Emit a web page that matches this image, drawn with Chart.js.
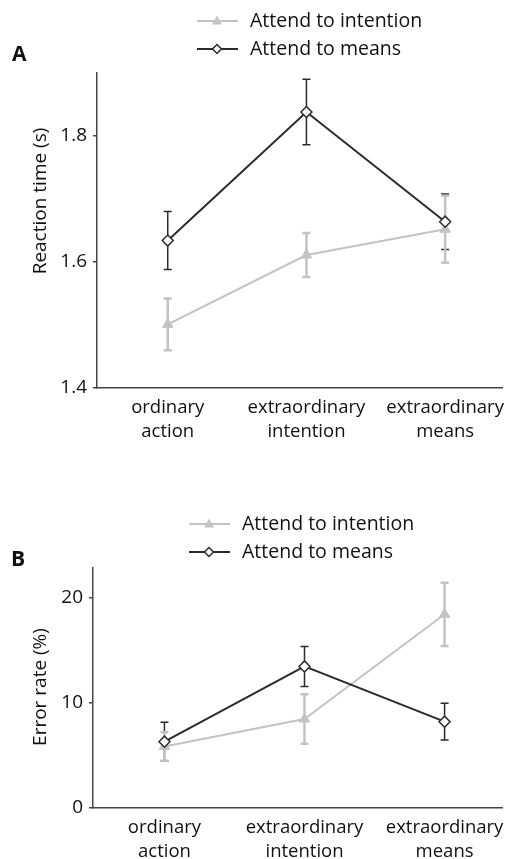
<!DOCTYPE html>
<html>
<head>
<meta charset="utf-8">
<script src="https://cdn.jsdelivr.net/npm/chart.js@4.4.1/dist/chart.umd.min.js"></script>
<style>
  html, body { margin: 0; padding: 0; background: #fff; }
  body { position: relative; width: 509px; height: 859px; overflow: hidden; }
  .painel { position: absolute; left: 0; width: 509px; }
  #wrapA { top: 0; height: 470px; }
  #wrapB { top: 440px; height: 419px; }
</style>
</head>
<body>
<div class="painel" id="wrapA"><canvas id="chartA"></canvas></div>
<div class="painel" id="wrapB"><canvas id="chartB"></canvas></div>
<script>
// === Data ===
const categories = [["ordinary", "action"], ["extraordinary", "intention"], ["extraordinary", "means"]];
const seriesNames = ["Attend to intention", "Attend to means"];

// A: reaction time (s)
const rtIntention = [1.501, 1.611, 1.652];
const rtIntentionErr = [0.041, 0.035, 0.053];
const rtMeans = [1.634, 1.838, 1.664];
const rtMeansErr = [0.046, 0.052, 0.044];
const ticksA = [1.4, 1.6, 1.8];

// B: error rate (%)
const erIntention = [5.85, 8.45, 18.4];
const erIntentionErr = [1.35, 2.35, 3.0];
const erMeans = [6.3, 13.45, 8.2];
const erMeansErr = [1.85, 1.9, 1.75];
const ticksB = [0, 10, 20];

const DARK = "#2b2b2b";
const LIGHT = "#c3c3c3";
const FONT = "'Open Sans', sans-serif";

// === Error bars (drawn under lines/markers) ===
const errorBars = {
  id: "errorBars",
  beforeDatasetsDraw(chart) {
    const ctx = chart.ctx;
    const y = chart.scales.y;
    chart.data.datasets.forEach((ds, di) => {
      const meta = chart.getDatasetMeta(di);
      ctx.save();
      ctx.strokeStyle = ds.borderColor;
      ctx.lineWidth = ds.errWidth;
      meta.data.forEach((pt, i) => {
        const v = ds.data[i].y, e = ds.errors[i];
        const top = y.getPixelForValue(v + e);
        const bot = y.getPixelForValue(v - e);
        ctx.beginPath();
        ctx.moveTo(pt.x, top); ctx.lineTo(pt.x, bot);
        ctx.moveTo(pt.x - 4, top); ctx.lineTo(pt.x + 4, top);
        ctx.moveTo(pt.x - 4, bot); ctx.lineTo(pt.x + 4, bot);
        ctx.stroke();
      });
      ctx.restore();
    });
  }
};

// === Legend, panel letter, y title ===
function marker(ctx, kind, x, y) {
  ctx.beginPath();
  if (kind === "triangle") {
    ctx.moveTo(x, y - 5.5); ctx.lineTo(x + 5, y + 3.5); ctx.lineTo(x - 5, y + 3.5);
    ctx.closePath();
    ctx.fillStyle = LIGHT; ctx.fill();
  } else {
    ctx.moveTo(x, y - 4.5); ctx.lineTo(x + 4.5, y); ctx.lineTo(x, y + 4.5); ctx.lineTo(x - 4.5, y);
    ctx.closePath();
    ctx.fillStyle = "#fff"; ctx.fill();
    ctx.strokeStyle = DARK; ctx.lineWidth = 1.5; ctx.stroke();
  }
}

const decor = {
  id: "decor",
  afterDraw(chart, args, o) {
    const ctx = chart.ctx;
    ctx.save();
    ctx.fillStyle = "#111";
    ctx.textBaseline = "middle";
    ctx.font = "bold 21px " + FONT;
    ctx.fillText(o.letter, o.letterX, o.letterY);

    ctx.font = "19.5px " + FONT;
    const kinds = ["triangle", "diamond"];
    const cols = [LIGHT, DARK];
    seriesNames.forEach((name, i) => {
      const ly = o.legendY[i];
      ctx.strokeStyle = cols[i];
      ctx.lineWidth = 2;
      ctx.beginPath();
      ctx.moveTo(o.legendX, ly); ctx.lineTo(o.legendX + 41, ly);
      ctx.stroke();
      marker(ctx, kinds[i], o.legendX + 20, ly);
      ctx.fillStyle = "#111";
      ctx.fillText(name, o.legendX + 53, ly);
    });

    ctx.translate(o.titleX, o.titleY);
    ctx.rotate(-Math.PI / 2);
    ctx.textAlign = "center";
    ctx.font = "19px " + FONT;
    ctx.fillText(o.title, 0, 0);
    ctx.restore();
  }
};

function makeDatasets(intention, intentionErr, means, meansErr) {
  return [
    {
      label: seriesNames[1], order: 0,
      data: means.map((v, i) => ({ x: i, y: v })), errors: meansErr, errWidth: 1.5,
      borderColor: DARK, borderWidth: 2, pointStyle: "rectRot", pointRadius: 5.5,
      pointBackgroundColor: "#fff", pointBorderColor: DARK, pointBorderWidth: 1.5
    },
    {
      label: seriesNames[0], order: 1,
      data: intention.map((v, i) => ({ x: i, y: v })), errors: intentionErr, errWidth: 2.5,
      borderColor: LIGHT, borderWidth: 2, pointStyle: "triangle", pointRadius: 6,
      pointBackgroundColor: LIGHT, pointBorderColor: LIGHT, pointBorderWidth: 1
    }
  ];
}

function makeChart(id, datasets, yMin, yMax, yTicks, axisLeft, top, xHeight, decorOpts) {
  return new Chart(document.getElementById(id), {
    type: "line",
    data: { datasets },
    options: {
      responsive: true,
      maintainAspectRatio: false,
      animation: false,
      layout: { padding: { top: top, right: 1, left: 0, bottom: 0 } },
      plugins: { legend: { display: false }, tooltip: { enabled: false }, decor: decorOpts },
      scales: {
        x: {
          type: "linear", min: -0.51, max: 2.41,
          afterBuildTicks: s => { s.ticks = categories.map((c, i) => ({ value: i })); },
          afterFit: s => { s.height = xHeight; },
          grid: { display: false },
          border: { color: "#444", width: 1.5 },
          ticks: {
            autoSkip: false, maxRotation: 0, padding: 0, color: "#111",
            font: { family: FONT, size: 18.5, lineHeight: 1.3 },
            callback: v => categories[v]
          }
        },
        y: {
          min: yMin, max: yMax,
          afterBuildTicks: s => { s.ticks = yTicks.map(v => ({ value: v })); },
          afterFit: s => { s.width = axisLeft; },
          grid: { drawOnChartArea: false, tickLength: 4, color: "#444", lineWidth: 1.5 },
          border: { color: "#444", width: 1.5 },
          ticks: { padding: 6, color: "#111", font: { family: FONT, size: 19 } }
        }
      }
    },
    plugins: [errorBars, decor]
  });
}

// A: canvas 470 tall, axis at 388
makeChart("chartA", makeDatasets(rtIntention, rtIntentionErr, rtMeans, rtMeansErr),
  1.4, 1.9, ticksA, 97, 73, 82,
  { letter: "A", letterX: 12, letterY: 55, legendX: 197, legendY: [21, 49],
    title: "Reaction time (s)", titleX: 41, titleY: 201 });

// B: canvas starts at 440, axis at 808
makeChart("chartB", makeDatasets(erIntention, erIntentionErr, erMeans, erMeansErr),
  0, 22.8, ticksB, 93, 128, 51,
  { letter: "B", letterX: 11, letterY: 120, legendX: 189, legendY: [84, 112],
    title: "Error rate (%)", titleX: 41, titleY: 247 });
</script>
</body>
</html>
